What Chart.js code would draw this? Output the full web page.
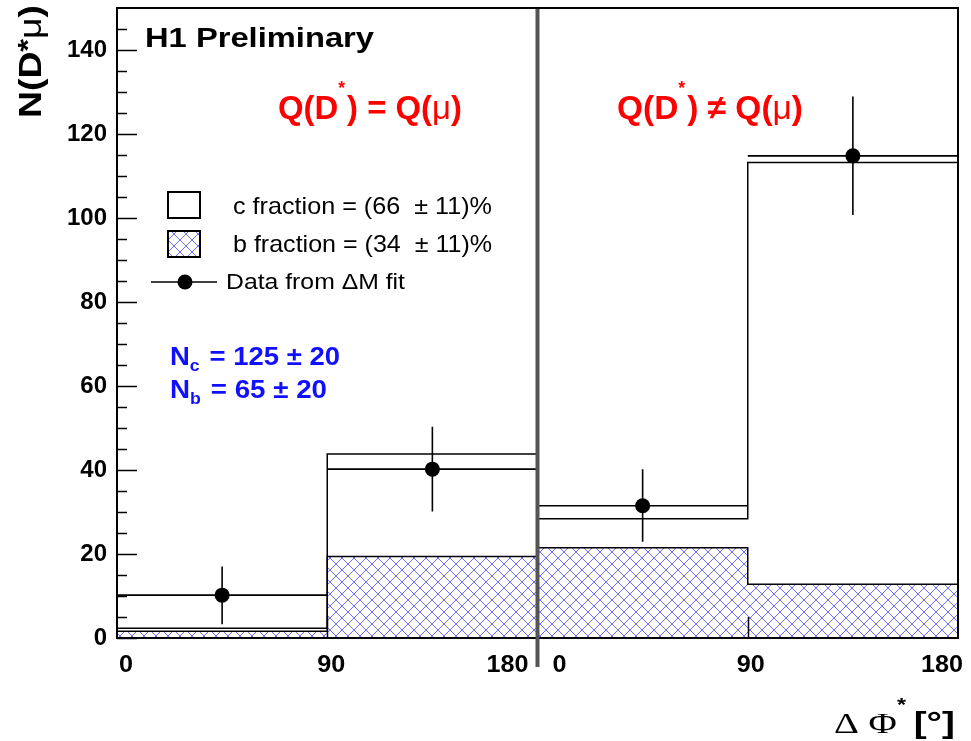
<!DOCTYPE html>
<html>
<head>
<meta charset="utf-8">
<script src="https://cdn.jsdelivr.net/npm/chart.js@4.4.1/dist/chart.umd.min.js"></script>
<style>
  html, body { margin: 0; padding: 0; background: #fff; }
  #wrap { width: 971px; height: 741px; }
</style>
</head>
<body>
<div id="wrap"><canvas id="c" width="971" height="741"></canvas></div>
<script>
// ---- data ----
const binEdges = [0, 90, 180, 270, 360];          // two panels, 0-180 each, laid end to end
const bFraction = [1.6, 19.4, 21.5, 12.8];        // b component (hatched)
const totalFit  = [2.3, 43.8, 28.4, 113.2];       // c + b (stacked outline)
const dataX     = [45, 135, 225, 315];
const dataY     = [10.2, 40.2, 31.5, 114.8];
const dataYHigh = [17.0, 50.3, 40.2, 128.9];
const dataYLow  = [3.3, 30.1, 22.9, 100.7];
const dataXHalf = [45, 45, 45, 45];
const yTicks    = [0, 20, 40, 60, 80, 100, 120, 140];
const xTickValues = [0, 90, 180, 180, 270, 360];
const xTickLabels = ['0', '90', '180', '0', '90', '180'];
const xTickLabelShift = [9, 4, -30, 22, 3, -16];

const SANS = '"Liberation Sans", Arial, sans-serif';
const SERIF = '"Liberation Serif", "Times New Roman", serif';

function stepPoints(vals) {
  const pts = vals.map((v, i) => ({ x: binEdges[i], y: v }));
  pts.push({ x: binEdges[binEdges.length - 1], y: vals[vals.length - 1] });
  return pts;
}

function makeHatch() {
  const s = 12;
  const p = document.createElement('canvas');
  p.width = s; p.height = s;
  const g = p.getContext('2d');
  g.fillStyle = '#ffffff';
  g.fillRect(0, 0, s, s);
  g.strokeStyle = '#6f6fff';
  g.lineWidth = 1;
  g.beginPath();
  g.moveTo(0, 0); g.lineTo(s, s);
  g.moveTo(s, 0); g.lineTo(0, s);
  g.stroke();
  return document.getElementById('c').getContext('2d').createPattern(p, 'repeat');
}
const hatch = makeHatch();

function drawRuns(ctx, runs, x, y, targetW) {
  let w = 0;
  runs.forEach(r => { ctx.font = r.font; r.w = ctx.measureText(r.t).width + (r.gap || 0); w += r.w; });
  const sx = targetW ? targetW / w : 1;
  ctx.save();
  ctx.translate(x, y);
  ctx.scale(sx, 1);
  ctx.textAlign = 'left';
  ctx.textBaseline = 'alphabetic';
  let cx = 0;
  runs.forEach(r => {
    ctx.font = r.font;
    ctx.fillStyle = r.color || '#000';
    ctx.fillText(r.t, cx + (r.dx || 0), r.dy || 0);
    cx += r.w;
  });
  ctx.restore();
}

const decor = {
  id: 'decor',
  beforeDraw(chart) {
    const ctx = chart.ctx;
    ctx.save();
    ctx.fillStyle = '#fff';
    ctx.fillRect(0, 0, chart.width, chart.height);
    ctx.restore();
  },
  afterDatasetsDraw(chart) {
    const ctx = chart.ctx;
    const xs = chart.scales.x, ys = chart.scales.y;
    const a = chart.chartArea;
    ctx.save();
    // error bars
    ctx.strokeStyle = '#000';
    ctx.lineWidth = 1.6;
    for (let i = 0; i < dataX.length; i++) {
      const px = xs.getPixelForValue(dataX[i]);
      const py = ys.getPixelForValue(dataY[i]);
      ctx.beginPath();
      ctx.moveTo(xs.getPixelForValue(dataX[i] - dataXHalf[i]), py);
      ctx.lineTo(xs.getPixelForValue(dataX[i] + dataXHalf[i]), py);
      ctx.moveTo(px, ys.getPixelForValue(dataYHigh[i]));
      ctx.lineTo(px, ys.getPixelForValue(dataYLow[i]));
      ctx.stroke();
    }
    // frame
    ctx.lineWidth = 2;
    ctx.strokeStyle = '#000';
    ctx.strokeRect(a.left, a.top, a.right - a.left, a.bottom - a.top);
    // y ticks inside
    ctx.lineWidth = 1.5;
    ctx.beginPath();
    for (let v = 0; v <= 145; v += 5) {
      const py = Math.round(ys.getPixelForValue(v)) + 0.5;
      const len = (v % 20 === 0) ? 20 : 10;
      ctx.moveTo(a.left, py);
      ctx.lineTo(a.left + len, py);
    }
    // x ticks inside at 90 of each panel
    [90, 270].forEach(v => {
      const px = Math.round(xs.getPixelForValue(v)) + 0.5;
      ctx.moveTo(px, a.bottom);
      ctx.lineTo(px, a.bottom - 21);
    });
    ctx.stroke();
    // panel separator
    const sx = xs.getPixelForValue(180);
    ctx.strokeStyle = '#555';
    ctx.lineWidth = 4;
    ctx.beginPath();
    ctx.moveTo(sx, a.top + 1);
    ctx.lineTo(sx, 667);
    ctx.stroke();
    ctx.restore();
    // x tick labels
    xTickValues.forEach((v, i) => {
      ctx.save();
      ctx.font = 'bold 24px ' + SANS;
      const w = ctx.measureText(xTickLabels[i]).width;
      ctx.restore();
      drawRuns(ctx, [{ t: xTickLabels[i], font: 'bold 24px ' + SANS }],
        xs.getPixelForValue(v) + xTickLabelShift[i] - w * 1.05 / 2, 672, w * 1.05);
    });

    // texts
    drawRuns(ctx, [{ t: 'H1 Preliminary', font: 'bold 27px ' + SANS }], 145, 47, 229);
    const red = '#ff0000';
    drawRuns(ctx, [
      { t: 'Q(D', font: 'bold 34px ' + SANS, color: red },
      { t: '*', font: 'bold 18px ' + SANS, color: red, dy: -25, gap: 2 },
      { t: ') = Q(', font: 'bold 34px ' + SANS, color: red },
      { t: '\u03BC', font: '34px ' + SANS, color: red },
      { t: ')', font: 'bold 34px ' + SANS, color: red }
    ], 278, 119, 184);
    drawRuns(ctx, [
      { t: 'Q(D', font: 'bold 34px ' + SANS, color: red },
      { t: '*', font: 'bold 18px ' + SANS, color: red, dy: -25, gap: 2 },
      { t: ') \u2260 Q(', font: 'bold 34px ' + SANS, color: red },
      { t: '\u03BC', font: '34px ' + SANS, color: red },
      { t: ')', font: 'bold 34px ' + SANS, color: red }
    ], 617, 119, 186);

    // legend
    ctx.save();
    ctx.lineWidth = 2;
    ctx.strokeStyle = '#000';
    ctx.fillStyle = '#fff';
    ctx.fillRect(168, 192, 32, 26);
    ctx.strokeRect(168, 192, 32, 26);
    ctx.fillStyle = hatch;
    ctx.fillRect(168, 231, 32, 26);
    ctx.strokeRect(168, 231, 32, 26);
    ctx.lineWidth = 1.5;
    ctx.beginPath();
    ctx.moveTo(151, 282); ctx.lineTo(217, 282);
    ctx.stroke();
    ctx.fillStyle = '#000';
    ctx.beginPath();
    ctx.arc(185, 282, 7.5, 0, Math.PI * 2);
    ctx.fill();
    ctx.restore();
    drawRuns(ctx, [{ t: 'c fraction = (66  \u00B1 11)%', font: '24px ' + SANS }], 233, 214, 259);
    drawRuns(ctx, [{ t: 'b fraction = (34  \u00B1 11)%', font: '24px ' + SANS }], 233, 252, 259);
    drawRuns(ctx, [
      { t: 'Data from ', font: '22px ' + SANS },
      { t: '\u0394', font: '22px ' + SANS },
      { t: 'M fit', font: '22px ' + SANS }
    ], 226, 289, 179);

    const blue = '#1010ff';
    drawRuns(ctx, [
      { t: 'N', font: 'bold 25px ' + SANS, color: blue },
      { t: 'c', font: 'bold 16px ' + SANS, color: blue, dy: 6, gap: 2 },
      { t: ' = 125 \u00B1 20', font: 'bold 25px ' + SANS, color: blue }
    ], 170, 365, 170);
    drawRuns(ctx, [
      { t: 'N', font: 'bold 25px ' + SANS, color: blue },
      { t: 'b', font: 'bold 16px ' + SANS, color: blue, dy: 6, gap: 2 },
      { t: ' = 65 \u00B1 20', font: 'bold 25px ' + SANS, color: blue }
    ], 170, 398, 157);

    // axis titles
    drawRuns(ctx, [
      { t: '\u0394 \u03A6', font: '30px ' + SERIF },
      { t: '*', font: 'bold 18px ' + SANS, dy: -22, gap: 6 },
      { t: '[\u00B0]', font: 'bold 30px ' + SANS }
    ], 834, 733, 121);

    ctx.save();
    ctx.translate(41, 118);
    ctx.rotate(-Math.PI / 2);
    drawRuns(ctx, [
      { t: 'N(D', font: 'bold 32px ' + SANS },
      { t: '*', font: 'bold 28px ' + SANS, dy: -4 },
      { t: '\u03BC', font: '32px ' + SANS },
      { t: ')', font: 'bold 32px ' + SANS }
    ], 0, 0, 113);
    ctx.restore();
  }
};

new Chart(document.getElementById('c'), {
  type: 'line',
  data: {
    datasets: [
      {
        label: 'b fraction',
        data: stepPoints(bFraction),
        stepped: 'before',
        fill: 'origin',
        backgroundColor: hatch,
        borderColor: '#000',
        borderWidth: 1.5,
        pointRadius: 0,
        order: 3
      },
      {
        label: 'c fraction',
        data: stepPoints(totalFit),
        stepped: 'before',
        fill: false,
        borderColor: '#000',
        borderWidth: 1.5,
        pointRadius: 0,
        order: 2
      },
      {
        label: 'Data from \u0394M fit',
        data: dataX.map((x, i) => ({ x: x, y: dataY[i] })),
        showLine: false,
        pointRadius: 7.5,
        pointBackgroundColor: '#000',
        pointBorderWidth: 0,
        order: 1
      }
    ]
  },
  options: {
    responsive: false,
    animation: false,
    devicePixelRatio: 1,
    layout: { padding: { top: 8, right: 13, left: 0, bottom: 0 } },
    plugins: { legend: { display: false }, tooltip: { enabled: false }, title: { display: false } },
    scales: {
      x: {
        type: 'linear', min: 0, max: 360,
        ticks: { display: false },
        grid: { display: false, drawTicks: false },
        border: { display: false },
        afterFit(s) { s.height = 103; s.paddingLeft = 0; s.paddingRight = 0; }
      },
      y: {
        type: 'linear', min: 0, max: 150,
        afterBuildTicks(s) { s.ticks = yTicks.map(v => ({ value: v })); },
        ticks: { color: '#000', padding: 10, font: { family: SANS, size: 24, weight: 'bold' } },
        grid: { display: false, drawTicks: false },
        border: { display: false },
        afterFit(s) { s.width = 117; s.paddingTop = 0; s.paddingBottom = 0; }
      }
    }
  },
  plugins: [decor]
});
</script>
</body>
</html>
